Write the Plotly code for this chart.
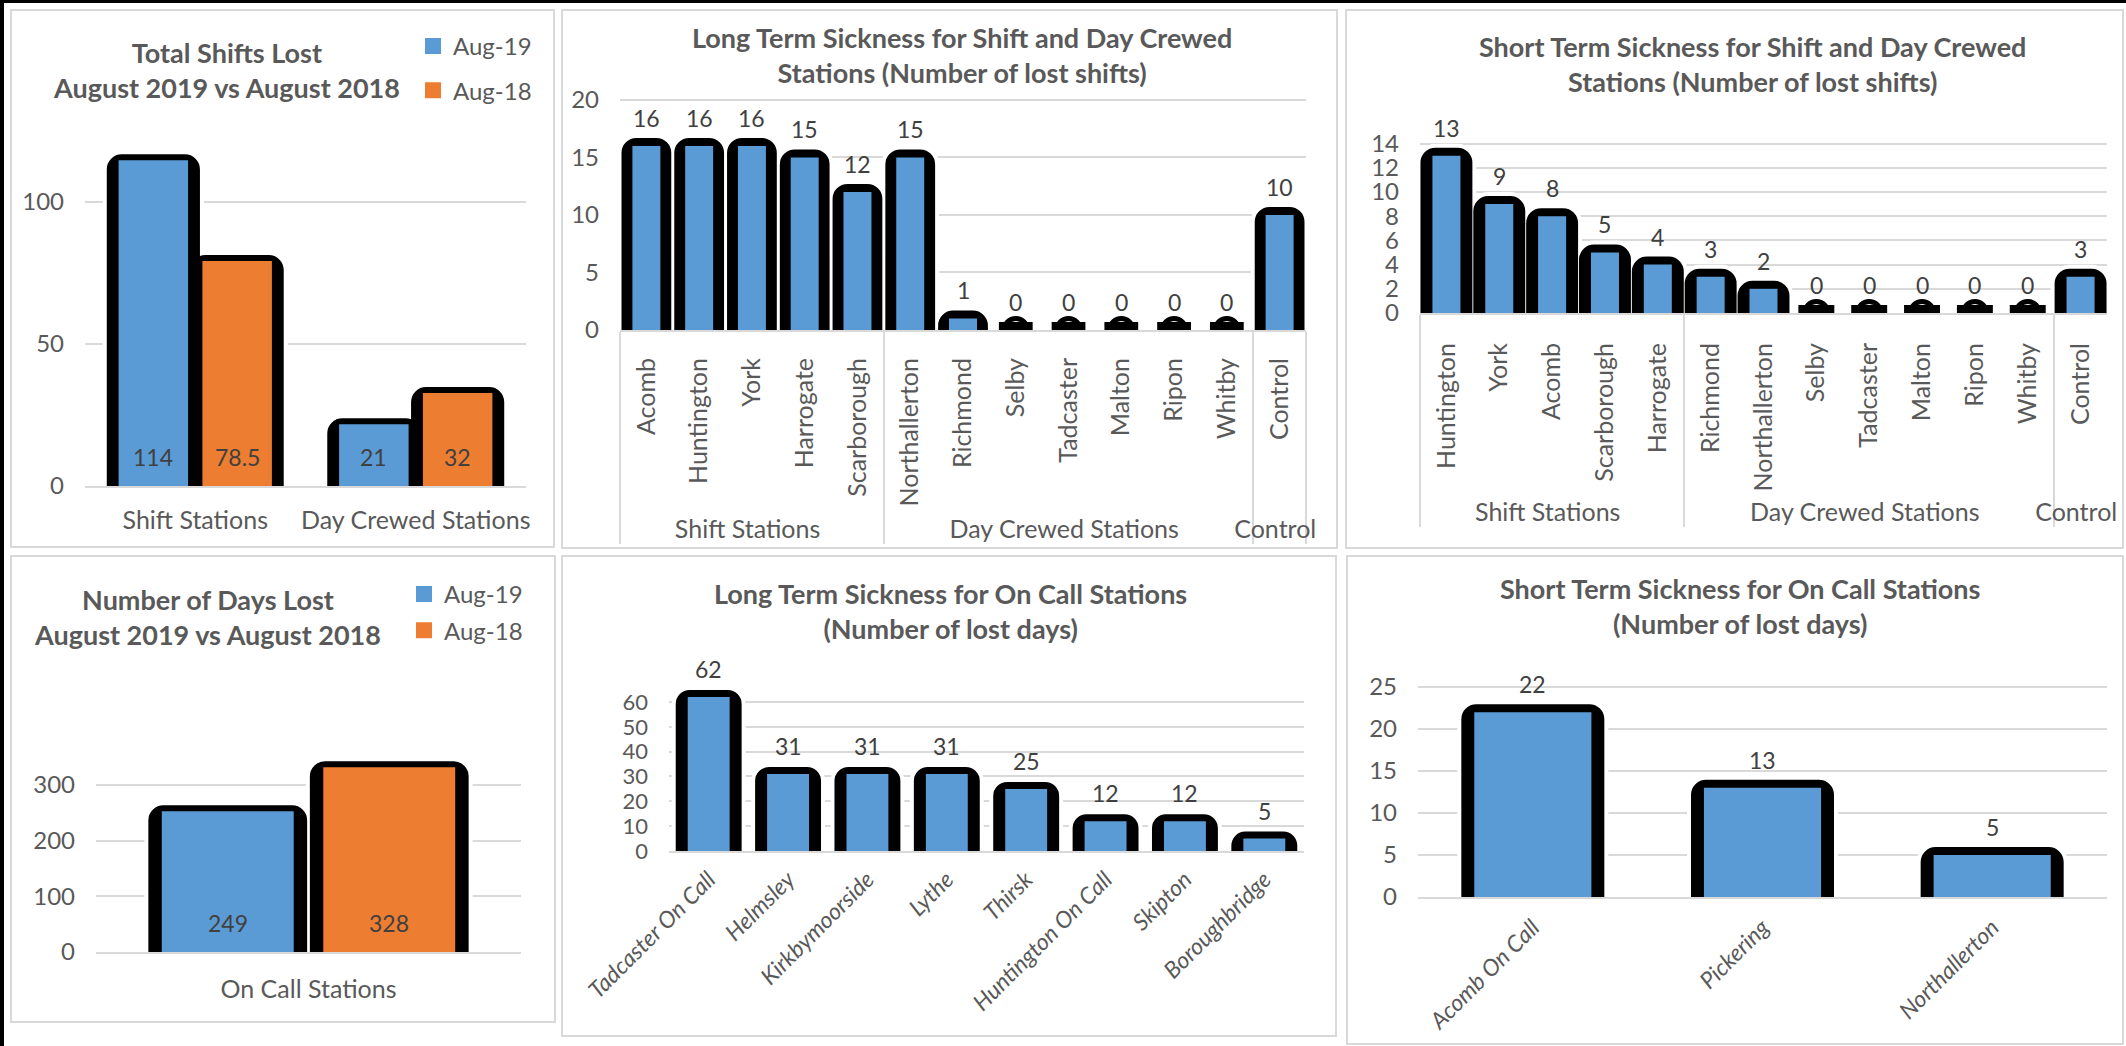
import plotly.graph_objects as go

W, H = 2126, 1046
FONT = "Lato"
TXT = "#595959"
VAL = "#404040"
GRID = "#D9D9D9"
BLUE = "#5B9BD5"
ORANGE = "#ED7D31"

# ---------------- data ----------------
series_names = ["Aug-19", "Aug-18"]

p1_categories = ["Shift Stations", "Day Crewed Stations"]
p1_aug19 = [114, 21]
p1_aug18 = [78.5, 32]

p2_groups = ["Shift Stations"] * 5 + ["Day Crewed Stations"] * 7 + ["Control"]
p2_stations = ["Acomb", "Huntington", "York", "Harrogate", "Scarborough",
               "Northallerton", "Richmond", "Selby", "Tadcaster", "Malton",
               "Ripon", "Whitby", "Control"]
p2_values = [16, 16, 16, 15, 12, 15, 1, 0, 0, 0, 0, 0, 10]

p3_groups = ["Shift Stations"] * 5 + ["Day Crewed Stations"] * 7 + ["Control"]
p3_stations = ["Huntington", "York", "Acomb", "Scarborough", "Harrogate",
               "Richmond", "Northallerton", "Selby", "Tadcaster", "Malton",
               "Ripon", "Whitby", "Control"]
p3_values = [13, 9, 8, 5, 4, 3, 2, 0, 0, 0, 0, 0, 3]

p4_categories = ["On Call Stations"]
p4_aug19 = [249]
p4_aug18 = [328]

p5_stations = ["Tadcaster On Call", "Helmsley", "Kirkbymoorside", "Lythe",
               "Thirsk", "Huntington On Call", "Skipton", "Boroughbridge"]
p5_values = [62, 31, 31, 31, 25, 12, 12, 5]

p6_stations = ["Acomb On Call", "Pickering", "Northallerton"]
p6_values = [22, 13, 5]

titles = [
    "Total Shifts Lost<br>August 2019 vs August 2018",
    "Long Term Sickness for Shift and Day Crewed<br>Stations (Number of lost shifts)",
    "Short Term Sickness for Shift and Day Crewed<br>Stations (Number of lost shifts)",
    "Number of Days Lost<br>August 2019 vs August 2018",
    "Long Term Sickness for On Call Stations<br>(Number of lost days)",
    "Short Term Sickness for On Call Stations<br>(Number of lost days)",
]

# ---------------- layout geometry (pixels) ----------------
panel_box = {1: (11, 554, 10, 547), 2: (562, 1337, 10, 548), 3: (1346, 2123, 10, 548),
             4: (11, 555, 556, 1022), 5: (562, 1336, 556, 1036), 6: (1347, 2123, 556, 1044)}
plot_box = {1: (85, 526, 131, 486), 2: (620, 1306, 96.5, 330), 3: (1420, 2107, 136.3, 313),
            4: (96, 521, 751.5, 952), 5: (669, 1304, 684.6, 851), 6: (1418, 2107, 684.5, 897)}
y_ranges = {1: [0, 125], 2: [0, 20.3], 3: [0, 14.6], 4: [0, 360], 5: [0, 67], 6: [0, 25.3]}
y_dticks = {1: 50, 2: 5, 3: 2, 4: 100, 5: 10, 6: 5}
x_ranges = {1: [-0.5, 1.5], 2: [-0.5, 12.5], 3: [-0.5, 12.5], 4: [-0.5, 0.5],
            5: [-0.5, 7.5], 6: [-0.5, 2.5]}
x_standoff = {1: 11, 2: 16, 3: 18, 4: 14, 5: 4, 6: 6}
title_pos = {1: (226, 70), 2: (962, 55.5), 3: (1752, 64), 4: (207, 617), 5: (950, 611), 6: (1740, 606)}

HALO = 8  # extra white gap around the black outline (px)

fig = go.Figure()


def ax_ids(n):
    return ("x", "y") if n == 1 else (f"x{n}", f"y{n}")


def bar_layers(x, y, n, color, wf, wb, stroke, center=None, name=None, legend=None,
               group=None, edge=0):
    """Return (halo, back, front) bar specs drawn from the same data."""
    xa, ya = ax_ids(n)
    common = dict(x=x, y=y, xaxis=xa, yaxis=ya)
    halo = dict(common, width=wb,
                marker=dict(color="white", line=dict(color="white", width=stroke + HALO),
                            cornerradius=7),
                showlegend=False, hoverinfo="skip")
    back = dict(common, width=wb,
                marker=dict(color="black", line=dict(color="black", width=stroke), cornerradius=7),
                showlegend=False, hoverinfo="skip")
    front = dict(common, width=wf,
                 marker=dict(color=color, line=dict(width=edge, color=color)),
                 name=name, showlegend=name is not None)
    if legend:
        front["legend"] = legend
    if group:
        front["legendgroup"] = group
    if center is not None:
        halo["offset"] = center - wb / 2
        back["offset"] = center - wb / 2
        front["offset"] = center - wf / 2
    return go.Bar(**halo), go.Bar(**back), go.Bar(**front)


def add_single(*args, **kw):
    for tr in bar_layers(*args, **kw):
        fig.add_trace(tr)


def add_grouped(series):
    layers = [bar_layers(*a, **k) for a, k in series]
    for h, _, _ in layers:
        fig.add_trace(h)
    for _, b, f in layers:
        fig.add_trace(b)
        fig.add_trace(f)


annotations = []


def value_labels(ys, n, yshift=28, at_base=False, dx=0.0):
    xa, ya = ax_ids(n)
    for i, v in enumerate(ys):
        annotations.append(dict(x=i + dx, y=0 if at_base else v, xref=xa, yref=ya,
                                text=f"{v:g}", showarrow=False, yshift=yshift,
                                yanchor="middle", xanchor="center",
                                font=dict(family=FONT, size=23, color=VAL)))


# Panel 1
add_grouped([
    ((p1_categories, p1_aug19, 1, BLUE, 0.297, 0.35, 16),
     dict(center=-0.19, name=series_names[0], legend="legend", group="a", edge=4)),
    ((p1_categories, p1_aug18, 1, ORANGE, 0.297, 0.35, 16),
     dict(center=0.19, name=series_names[1], legend="legend", group="b", edge=4)),
])
value_labels(p1_aug19, 1, yshift=29, at_base=True, dx=-0.19)
value_labels(p1_aug18, 1, yshift=29, at_base=True, dx=0.19)

# Panel 2
add_single([p2_groups, p2_stations], p2_values, 2, BLUE, 0.53, 0.64, 16)
value_labels(p2_values, 2)

# Panel 3
add_single([p3_groups, p3_stations], p3_values, 3, BLUE, 0.53, 0.68, 16)
value_labels(p3_values, 3)

# zero-value outline domes (panels 2 and 3)
for n, groups, stations, values in [(2, p2_groups, p2_stations, p2_values),
                                     (3, p3_groups, p3_stations, p3_values)]:
    zg = [g for g, v in zip(groups, values) if v == 0]
    zs = [s for s, v in zip(stations, values) if v == 0]
    zv = [v for v in values if v == 0]
    xa, ya = ax_ids(n)
    fig.add_trace(go.Scatter(x=[zg, zs], y=zv, xaxis=xa, yaxis=ya, mode="markers",
                             marker=dict(symbol="circle-open", size=23, color="black",
                                         line=dict(width=5, color="black")),
                             showlegend=False, hoverinfo="skip"))

# Panel 4
add_grouped([
    ((p4_categories, p4_aug19, 4, BLUE, 0.301, 0.336, 16),
     dict(center=-0.19, name=series_names[0], legend="legend2", group="c", edge=4)),
    ((p4_categories, p4_aug18, 4, ORANGE, 0.301, 0.336, 16),
     dict(center=0.19, name=series_names[1], legend="legend2", group="d", edge=4)),
])
value_labels(p4_aug19, 4, yshift=29, at_base=True, dx=-0.19)
value_labels(p4_aug18, 4, yshift=29, at_base=True, dx=0.19)

# Panel 5
add_single(p5_stations, p5_values, 5, BLUE, 0.528, 0.654, 14)
value_labels(p5_values, 5)

# Panel 6
add_single(p6_stations, p6_values, 6, BLUE, 0.51, 0.553, 16)
value_labels(p6_values, 6)

# titles
for n, t in enumerate(titles, start=1):
    cx, cy = title_pos[n]
    annotations.append(dict(x=cx / W, y=1 - cy / H, xref="paper", yref="paper",
                            text=f"<b>{t}</b>", showarrow=False, xanchor="center",
                            yanchor="middle", align="center",
                            font=dict(family=FONT, size=27, color=TXT)))

layout = dict(template="none", width=W, height=H, autosize=False,
              margin=dict(l=0, r=0, t=0, b=0, pad=0, autoexpand=False),
              paper_bgcolor="white", plot_bgcolor="white", barmode="overlay",
              font=dict(family=FONT, color=TXT), annotations=annotations, shapes=[])

tick_font = dict(family=FONT, size=25, color=TXT)
ytick_font = dict(family=FONT, size=24, color=TXT)
for n in range(1, 7):
    l, r, t, b = plot_box[n]
    xa, ya = ax_ids(n)
    sx = "" if n == 1 else str(n)
    xaxis = dict(domain=[l / W, r / W], anchor=ya, range=x_ranges[n], showgrid=False,
                 zeroline=False, showline=True, linecolor=GRID, linewidth=2, ticks="",
                 tickfont=tick_font, fixedrange=True, automargin=False,
                 ticklabelstandoff=x_standoff[n])
    if n in (2, 3):
        xaxis.update(type="multicategory", tickangle=-90, showdividers=True,
                     dividercolor=GRID, dividerwidth=2)
    elif n in (5, 6):
        xaxis.update(tickangle=-45,
                     tickfont=dict(family=FONT, size=23, color=TXT, style="italic"))
    yaxis = dict(domain=[1 - b / H, 1 - t / H], anchor=xa, range=y_ranges[n],
                 dtick=y_dticks[n], tick0=0, showgrid=True, gridcolor=GRID, gridwidth=2,
                 zeroline=False, showline=False, ticks="", tickfont=ytick_font,
                 ticklabelstandoff=20, fixedrange=True, automargin=False)
    if n == 5:
        yaxis["tickfont"] = dict(family=FONT, size=22, color=TXT)
    layout["xaxis" + sx] = xaxis
    layout["yaxis" + sx] = yaxis

# panel frames
for n in range(1, 7):
    l, r, t, b = panel_box[n]
    layout["shapes"].append(dict(type="rect", xref="paper", yref="paper",
                                 x0=l / W, x1=r / W, y0=1 - b / H, y1=1 - t / H,
                                 line=dict(color=GRID, width=2), layer="below"))
# outer black edges (top, left)
layout["shapes"].append(dict(type="line", xref="paper", yref="paper", x0=0, x1=1,
                             y0=1 - 1.5 / H, y1=1 - 1.5 / H, line=dict(color="black", width=3)))
layout["shapes"].append(dict(type="line", xref="paper", yref="paper", x0=2 / W, x1=2 / W,
                             y0=0, y1=1, line=dict(color="black", width=4)))

leg_common = dict(xanchor="left", yanchor="top", bgcolor="rgba(0,0,0,0)",
                  font=dict(family=FONT, size=24, color=TXT), orientation="v",
                  itemclick=False, itemdoubleclick=False)
layout["legend"] = dict(leg_common, x=413 / W, y=1 - 24 / H, tracegroupgap=10)
layout["legend2"] = dict(leg_common, x=404 / W, y=1 - 572 / H, tracegroupgap=2)

fig.update_layout(**layout)
fig.write_html("out.html", config={"displayModeBar": False},
               post_script="document.body.style.margin='0';document.body.style.overflow='hidden';")
